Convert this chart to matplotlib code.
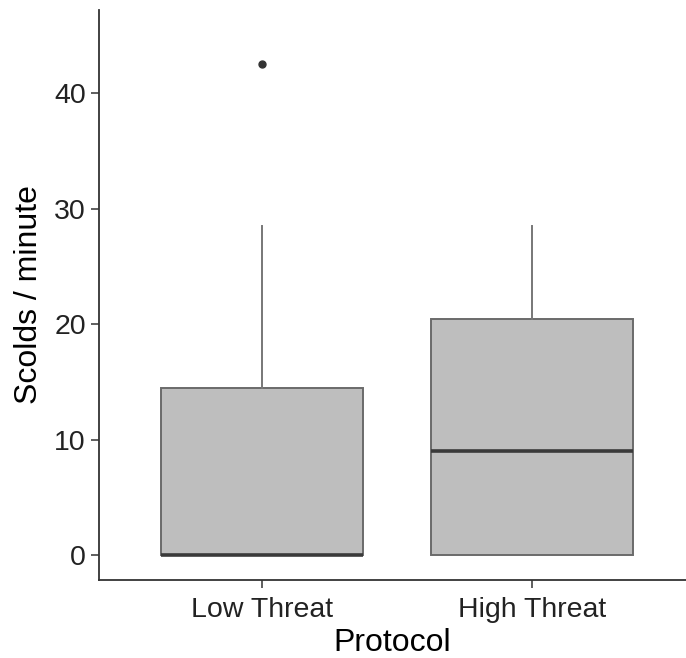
import matplotlib
matplotlib.use("Agg")
import matplotlib.pyplot as plt

# Box statistics per protocol
protocols = ["Low Threat", "High Threat"]
whisker_low = [0.0, 0.0]
q1 = [0.0, 0.0]
medians = [0.0, 9.0]
q3 = [14.5, 20.4]
whisker_high = [28.5, 28.5]
outliers = [[42.5], []]

plt.rcParams["font.family"] = ["Liberation Sans", "DejaVu Sans"]

W, H = 686, 658
fig = plt.figure(figsize=(W / 100, H / 100), dpi=100)
ax = fig.add_axes([99 / W, (H - 580) / H, 1 - 99 / W, (580 - 10) / H])

stats = []
for i, name in enumerate(protocols):
    stats.append({
        "label": name,
        "whislo": whisker_low[i],
        "q1": q1[i],
        "med": medians[i],
        "q3": q3[i],
        "whishi": whisker_high[i],
        "fliers": outliers[i],
    })

ax.bxp(
    stats,
    positions=[1, 2],
    widths=0.75,
    patch_artist=True,
    showcaps=False,
    boxprops=dict(facecolor="#bebebe", edgecolor="#6a6a6a", linewidth=1.4),
    medianprops=dict(color="#3a3a3a", linewidth=2.6),
    whiskerprops=dict(color="#777777", linewidth=1.4),
    flierprops=dict(marker="o", markerfacecolor="#333333", markeredgecolor="#333333",
                    markersize=5),
)

ax.set_xlim(0.396, 2.57)
ax.set_ylim(-2.16, 47.2)
ax.set_yticks([0, 10, 20, 30, 40])
ax.set_xticks([1, 2])
ax.set_xticklabels(protocols)

for side in ["top", "right"]:
    ax.spines[side].set_visible(False)
for side in ["left", "bottom"]:
    ax.spines[side].set_color("#333333")
    ax.spines[side].set_linewidth(1.3)

ax.tick_params(axis="both", length=5.5, width=1.1, color="#333333",
               labelsize=20.5, labelcolor="#222222", pad=4)
ax.tick_params(axis="x", pad=7)
ax.set_xlabel("Protocol", fontsize=23, color="black", labelpad=3)
ax.set_ylabel("Scolds / minute", fontsize=23, color="black", labelpad=7)

fig.savefig("out.png", dpi=100)
